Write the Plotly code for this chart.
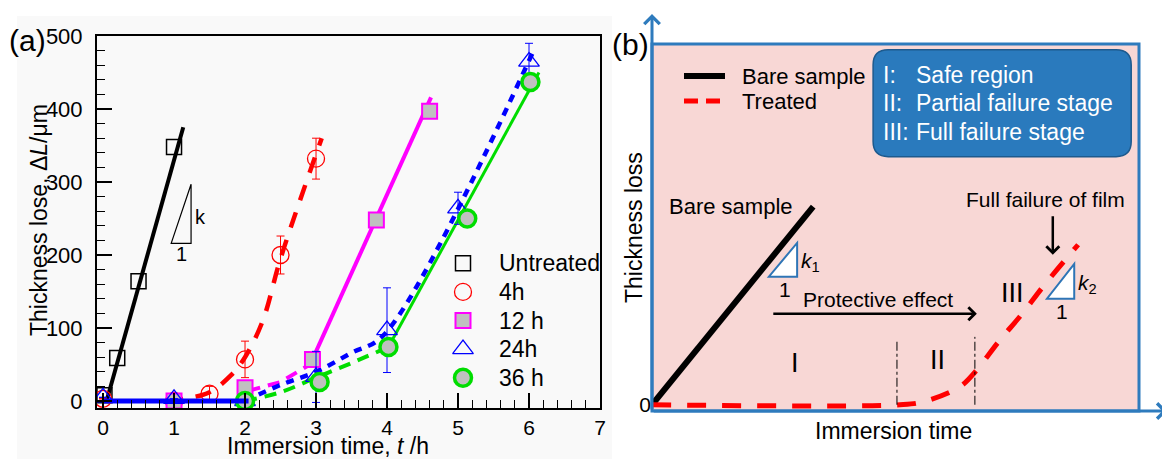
import plotly.graph_objects as go

FONT = "Arial, 'Liberation Sans', sans-serif"
W, H, OFF = 1170, 459, 8   # page body margin offsets the figure by 8 px


def fx(px):
    return (px - OFF) / W


def fy(py):
    return 1 - (py - OFF) / H


# ---------------- Panel (a) data ----------------
untreated_t = [0.02, 0.2, 0.5, 1.0]
untreated_dl = [8, 59, 164, 348]
untreated_fit_t = [0.05, 1.13]
untreated_fit_dl = [0, 375]

h4_t = [0, 1, 1.5, 2, 2.5, 3]
h4_dl = [3, 0, 10, 57, 200, 332]
h4_err = [0, 0, 10, 25, 26, 28]
h4_fit_t = [0.9, 1.2, 1.5, 1.8, 2.0, 2.25, 2.5, 3.08]
h4_fit_dl = [0, 4, 12, 35, 60, 110, 195, 360]

h12_t = [1, 2, 2.95, 3.85, 4.6]
h12_dl = [0, 18, 57, 248, 397]
h12_dash_t = [2.05, 2.5, 2.95]
h12_dash_dl = [14, 26, 52]
h12_fit_t = [2.95, 4.62]
h12_fit_dl = [57, 416]

h24_t = [0, 1, 2, 3, 4, 5, 6]
h24_dl = [5, 3, 0, 33, 97, 264, 465]
h24_err = [0, 0, 0, 35, 58, 22, 25]
h24_flat_t = [0, 2.05]
h24_flat_dl = [0, 0]
h24_fit_t = [2, 2.5, 3, 3.5, 3.95, 6.07]
h24_fit_dl = [0, 22, 40, 66, 90, 481]

h36_t = [2, 3.05, 4.02, 5.13, 6.02]
h36_dl = [0, 26, 74, 250, 437]
h36_dash_t = [2, 2.5, 3, 3.5, 4.02]
h36_dash_dl = [0, 12, 32, 52, 74]
h36_fit_t = [4.02, 6.14]
h36_fit_dl = [74, 450]

series_labels = ["Untreated", "4h", "12 h", "24h", "36 h"]
x_ticks_a = [0, 1, 2, 3, 4, 5, 6, 7]
y_ticks_a = [0, 100, 200, 300, 400, 500]

# slope triangle (a)
tri_a_x = [0.96, 1.24, 1.24]
tri_a_y = [216, 216, 297]

# ---------------- Panel (b) schematic data ----------------
bare_x = [0, 3.31]
bare_y = [0, 5.40]
treated_x = [0, 5.09, 5.56, 6.32, 6.67, 7.10, 7.62, 8.03, 8.75]
treated_y = [0, 0, 0.08, 0.49, 0.95, 1.69, 2.51, 3.22, 4.36]
schematic_labels = ["Bare sample", "Treated"]
key_x = [0, 1]

stage_lines_x = [5.03, 6.63]
stage_lines_top = [1.72, 1.85]
stage_labels = ["I", "II", "III"]
stage_label_x = [2.94, 5.87, 7.41]
stage_label_y = [1.14, 1.23, 3.05]

box_roman = ["I:", "II:", "III:"]
box_text = ["Safe region", "Partial failure stage", "Full failure stage"]
box_row_y = [8.99, 8.23, 7.44]

tri_k1_x = [2.40, 2.98, 2.98]
tri_k1_y = [3.49, 3.49, 4.41]
tri_k2_x = [8.11, 8.67, 8.67]
tri_k2_y = [2.89, 2.89, 3.84]

RED, MAG, BLUE, GREEN, GRAY = "#ff0000", "#ff00ff", "#0000ff", "#00dd00", "#c0c0c0"

MK = {
    "Untreated": dict(symbol="square-open", size=15, color="black", line=dict(width=1.5)),
    "4h": dict(symbol="circle-open", size=17, color=RED, line=dict(width=1.3)),
    "12 h": dict(symbol="square", size=15, color=GRAY, line=dict(color=MAG, width=2)),
    "24h": dict(symbol="triangle-up-open", size=18, color=BLUE, line=dict(width=1.3)),
    "36 h": dict(symbol="circle", size=17, color=GRAY, line=dict(color=GREEN, width=3.5)),
}

fig = go.Figure()

# lines (a)
fig.add_trace(go.Scatter(x=untreated_fit_t, y=untreated_fit_dl, mode="lines",
                         line=dict(color="black", width=4)))
fig.add_trace(go.Scatter(x=h4_fit_t, y=h4_fit_dl, mode="lines", line_shape="spline",
                         line=dict(color=RED, width=4.5, dash="16px,13px")))
fig.add_trace(go.Scatter(x=h12_dash_t, y=h12_dash_dl, mode="lines",
                         line=dict(color=MAG, width=4, dash="12px,8px")))
fig.add_trace(go.Scatter(x=h12_fit_t, y=h12_fit_dl, mode="lines",
                         line=dict(color=MAG, width=4)))
fig.add_trace(go.Scatter(x=h36_dash_t, y=h36_dash_dl, mode="lines", line_shape="spline",
                         line=dict(color=GREEN, width=4, dash="12px,8px")))
fig.add_trace(go.Scatter(x=h36_fit_t, y=h36_fit_dl, mode="lines",
                         line=dict(color=GREEN, width=3)))
fig.add_trace(go.Scatter(x=h24_fit_t, y=h24_fit_dl, mode="lines", line_shape="spline",
                         line=dict(color=BLUE, width=4.5, dash="8px,7px")))

# markers (a)
fig.add_trace(go.Scatter(x=untreated_t, y=untreated_dl, mode="markers", marker=MK["Untreated"]))
fig.add_trace(go.Scatter(x=h4_t, y=h4_dl, mode="markers", marker=MK["4h"],
                         error_y=dict(type="data", array=h4_err, color=RED, thickness=1, width=4)))
fig.add_trace(go.Scatter(x=h12_t, y=h12_dl, mode="markers", marker=MK["12 h"]))
fig.add_trace(go.Scatter(x=h24_t, y=h24_dl, mode="markers", marker=MK["24h"],
                         error_y=dict(type="data", array=h24_err, color=BLUE, thickness=1, width=4)))
fig.add_trace(go.Scatter(x=h36_t, y=h36_dl, mode="markers", marker=MK["36 h"]))
fig.add_trace(go.Scatter(x=h24_flat_t, y=h24_flat_dl, mode="lines",
                         line=dict(color=BLUE, width=5)))

# key of panel (a) on its own small axes (x3/y3), one row per series
for lab in series_labels:
    fig.add_trace(go.Scatter(x=[0], y=[lab], mode="markers", marker=MK[lab],
                             xaxis="x3", yaxis="y3"))

# panel (b) curves
fig.add_trace(go.Scatter(x=bare_x, y=bare_y, mode="lines",
                         line=dict(color="black", width=6), xaxis="x2", yaxis="y2"))
fig.add_trace(go.Scatter(x=treated_x, y=treated_y, mode="lines", line_shape="spline",
                         line=dict(color=RED, width=5, dash="19px,16px"), xaxis="x2", yaxis="y2"))

# key of panel (b) on axes x4/y4
fig.add_trace(go.Scatter(x=key_x, y=[schematic_labels[0]] * 2, mode="lines",
                         line=dict(color="black", width=6), xaxis="x4", yaxis="y4"))
fig.add_trace(go.Scatter(x=key_x, y=[schematic_labels[1]] * 2, mode="lines",
                         line=dict(color=RED, width=5, dash="14px,8px"), xaxis="x4", yaxis="y4"))

shapes = []
# panel (a) light-gray background
shapes.append(dict(type="rect", xref="paper", yref="paper", x0=fx(17), x1=fx(612), y0=0,
                   y1=fy(16), fillcolor="#f9f9f9", line=dict(width=0), layer="below"))
# slope triangle (a)
shapes.append(dict(type="path", xref="x", yref="y",
                   path=f"M {tri_a_x[0]},{tri_a_y[0]} L {tri_a_x[1]},{tri_a_y[1]} L {tri_a_x[2]},{tri_a_y[2]} Z",
                   line=dict(color="black", width=1.2), fillcolor="rgba(0,0,0,0)"))
# panel (b) pink region
shapes.append(dict(type="rect", xref="x2 domain", yref="y2 domain", x0=0, x1=1, y0=0, y1=1,
                   fillcolor="#f8d7d5", line=dict(color="#2e7bbd", width=3), layer="below"))
# stage dash-dot lines
for sx, st in zip(stage_lines_x, stage_lines_top):
    shapes.append(dict(type="line", xref="x2", yref="y2", x0=sx, x1=sx, y0=0, y1=st,
                       line=dict(color="black", width=1, dash="dashdot")))
# rounded info box
x0, x1, y0, y1, rx, ry = 4.54, 9.84, 6.76, 9.67, 0.31, 0.41
shapes.append(dict(type="path", xref="x2", yref="y2",
                   path=(f"M {x0+rx},{y0} L {x1-rx},{y0} Q {x1},{y0} {x1},{y0+ry} L {x1},{y1-ry} "
                         f"Q {x1},{y1} {x1-rx},{y1} L {x0+rx},{y1} Q {x0},{y1} {x0},{y1-ry} "
                         f"L {x0},{y0+ry} Q {x0},{y0} {x0+rx},{y0} Z"),
                   fillcolor="#2a7abd", line=dict(color="#1d5a8e", width=1.5)))
# k triangles
for tx, ty in [(tri_k1_x, tri_k1_y), (tri_k2_x, tri_k2_y)]:
    shapes.append(dict(type="path", xref="x2", yref="y2",
                       path=f"M {tx[0]},{ty[0]} L {tx[1]},{ty[1]} L {tx[2]},{ty[2]} Z",
                       fillcolor="white", line=dict(color="#2e75b6", width=2)))


def pa(text, px, py, size, angle=0, color="black"):
    return dict(text=text, xref="paper", yref="paper", x=fx(px), y=fy(py),
                xanchor="center", yanchor="middle", textangle=angle, showarrow=False,
                font=dict(size=size, color=color))


ann = []
ann.append(pa("(a)", 27, 41, 30))
ann.append(pa("(b)", 630, 45, 30))
ann.append(pa("Thickness lose, \u0394<i>L</i>/\u03bcm", 39, 220, 23, angle=-90))
ann.append(pa("Immersion time, <i>t</i> /h", 328, 446, 23))
ann.append(dict(text="k", xref="x", yref="y", x=1.27, y=252, xanchor="left",
                showarrow=False, font=dict(size=20)))
ann.append(dict(text="1", xref="x", yref="y", x=1.11, y=201, showarrow=False, font=dict(size=20)))
# key labels (a)
for lab in series_labels:
    ann.append(dict(text=lab, xref="x3", yref="y3", x=1, y=lab, xanchor="left", yanchor="middle",
                    showarrow=False, font=dict(size=23)))
# key labels (b)
for lab in schematic_labels:
    ann.append(dict(text=lab, xref="x4", yref="y4", x=1.37, y=lab, xanchor="left", yanchor="middle",
                    showarrow=False, font=dict(size=22)))

# panel (b) annotations
ann.append(pa("Thickness loss", 634, 228, 23, angle=-90))
ann.append(pa("Immersion time", 893, 431, 23))
# axis arrows
ann.append(dict(text="", xref="x2 domain", yref="y2 domain", x=0, y=1.082, ax=0, ay=397,
                showarrow=True, arrowhead=4, arrowsize=1, arrowwidth=3, arrowcolor="#2e7bbd",
                standoff=0))
ann.append(dict(text="", xref="x2 domain", yref="y2 domain", x=1.058, y=0, ax=-515, ay=0,
                showarrow=True, arrowhead=4, arrowsize=1, arrowwidth=3, arrowcolor="#2e7bbd",
                standoff=0))
ann.append(dict(text="Bare sample", xref="x2", yref="y2", x=1.62, y=5.40, showarrow=False,
                font=dict(size=22)))
ann.append(dict(text="<i>k</i><sub>1</sub>", xref="x2", yref="y2", x=3.02, y=3.9, xanchor="left",
                showarrow=False, font=dict(size=21)))
ann.append(dict(text="1", xref="x2", yref="y2", x=2.73, y=3.15, showarrow=False, font=dict(size=21)))
ann.append(dict(text="<i>k</i><sub>2</sub>", xref="x2", yref="y2", x=8.71, y=3.3, xanchor="left",
                showarrow=False, font=dict(size=21)))
ann.append(dict(text="1", xref="x2", yref="y2", x=8.42, y=2.55, showarrow=False, font=dict(size=21)))
ann.append(dict(text="Protective effect", xref="x2", yref="y2", x=4.64, y=2.88, showarrow=False,
                font=dict(size=21)))
ann.append(dict(text="", xref="x2", yref="y2", x=6.67, y=2.48, ax=2.46, ay=2.48,
                axref="x2", ayref="y2", showarrow=True, arrowhead=4, arrowsize=1, arrowwidth=2.5,
                arrowcolor="black", standoff=0))
ann.append(dict(text="Full failure of film", xref="x2", yref="y2", x=8.09, y=5.59, showarrow=False,
                font=dict(size=21)))
ann.append(dict(text="", xref="x2", yref="y2", x=8.23, y=4.09, ax=8.23, ay=5.18,
                axref="x2", ayref="y2", showarrow=True, arrowhead=4, arrowsize=1, arrowwidth=2.5,
                arrowcolor="black", standoff=0))
for lab, lx, ly in zip(stage_labels, stage_label_x, stage_label_y):
    ann.append(dict(text=lab, xref="x2", yref="y2", x=lx, y=ly, showarrow=False, font=dict(size=27)))
for rom, txt, ry_ in zip(box_roman, box_text, box_row_y):
    ann.append(dict(text=rom, xref="x2", yref="y2", x=4.70, y=ry_, xanchor="left", showarrow=False,
                    font=dict(size=23, color="white")))
    ann.append(dict(text=txt, xref="x2", yref="y2", x=5.38, y=ry_, xanchor="left", showarrow=False,
                    font=dict(size=23, color="white")))

axis_common = dict(showgrid=False, zeroline=False, color="black", automargin=False)
hidden = dict(showgrid=False, zeroline=False, showline=False, showticklabels=False, ticks="",
              automargin=False, fixedrange=True)

fig.update_layout(
    width=W, height=H, autosize=False, showlegend=False,
    margin=dict(l=0, r=0, t=0, b=0, pad=0, autoexpand=False),
    paper_bgcolor="white", plot_bgcolor="rgba(0,0,0,0)",
    font=dict(family=FONT, color="black", size=22),
    xaxis=dict(domain=[fx(97), fx(600)], range=[-0.085, 7.0], tickvals=x_ticks_a,
               ticks="inside", ticklen=15, tickwidth=1.5, tickcolor="black",
               showline=True, linecolor="black", linewidth=2, mirror=True,
               minor=dict(dtick=0.2, ticks="inside", ticklen=8, tickwidth=1.2, tickcolor="black"),
               tickfont=dict(size=21), anchor="y", **axis_common),
    yaxis=dict(domain=[fy(408), fy(36)], range=[-9.6, 500], tickvals=y_ticks_a,
               ticks="inside", ticklen=15, tickwidth=1.5, tickcolor="black",
               showline=True, linecolor="black", linewidth=2, mirror=True,
               minor=dict(dtick=20, ticks="inside", ticklen=8, tickwidth=1.2, tickcolor="black"),
               tickfont=dict(size=22), ticklabelstandoff=8, anchor="x", **axis_common),
    xaxis2=dict(domain=[fx(652), fx(1139)], range=[0, 10], showticklabels=False, ticks="",
                showline=False, anchor="y2", **axis_common),
    yaxis2=dict(domain=[fy(411), fy(44)], range=[-0.17, 9.83], tickvals=[0],
                ticktext=["0"], ticks="", showline=False, tickfont=dict(size=21),
                anchor="x2", **axis_common),
    xaxis3=dict(domain=[fx(429), fx(599)], range=[-1, 4], anchor="y3", **hidden),
    yaxis3=dict(domain=[fy(392), fy(249)], type="category", categoryorder="array",
                categoryarray=series_labels, range=[4.5, -0.5], anchor="x3", **hidden),
    xaxis4=dict(domain=[fx(684), fx(889)], range=[0, 5], anchor="y4", **hidden),
    yaxis4=dict(domain=[fy(113.5), fy(63.5)], type="category", categoryorder="array",
                categoryarray=schematic_labels, range=[1.5, -0.5], anchor="x4", **hidden),
    shapes=shapes, annotations=ann,
)

fig.write_html("out.html")
